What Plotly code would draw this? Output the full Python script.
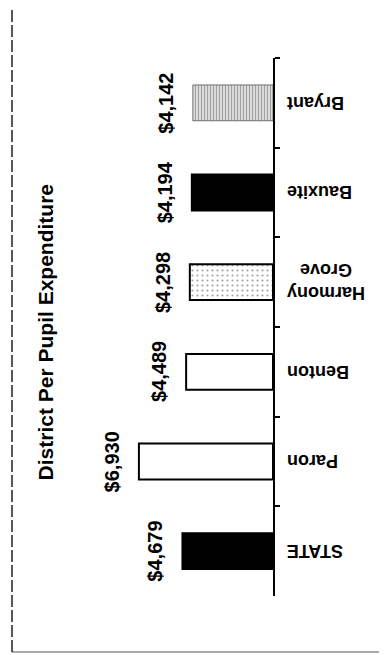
import plotly.graph_objects as go

categories = ["Bryant", "Bauxite", "Harmony Grove", "Benton", "Paron", "STATE"]
category_labels = ["Bryant", "Bauxite", "Harmony<br>Grove", "Benton", "Paron", "STATE"]
values = [4142, 4194, 4298, 4489, 6930, 4679]
value_labels = ["$4,142", "$4,194", "$4,298", "$4,489", "$6,930", "$4,679"]
title_text = "District Per Pupil Expenditure"

fill_colors = ["white", "black", "white", "white", "white", "black"]
pattern_shapes = ["|", "", ".", "", "", ""]
pattern_sizes = [3, 8, 5, 8, 8, 8]
pattern_solidity = [0.6, 0.3, 0.15, 0.3, 0.3, 0.3]
pattern_bg = ["#b0b0b0", "white", "white", "white", "white", "white"]
outline_widths = [0.5, 2, 2, 2, 2, 2]

FONT = "Liberation Sans, Arial, Helvetica, sans-serif"

fig = go.Figure()
fig.add_trace(go.Bar(
    x=values,
    y=categories,
    orientation="h",
    width=0.4,
    marker=dict(
        color=fill_colors,
        line=dict(color="black", width=outline_widths),
        pattern=dict(shape=pattern_shapes, fgcolor="black", bgcolor=pattern_bg,
                     size=pattern_sizes, solidity=pattern_solidity),
    ),
    hoverinfo="skip",
))

annotations = []
for c, v, t in zip(categories, values, value_labels):
    annotations.append(dict(
        x=v, y=c, xref="x", yref="y", text=t, showarrow=False,
        textangle=-90, xanchor="right", yanchor="middle", xshift=-14,
        font=dict(family=FONT, size=20, color="black", weight="bold"),
    ))
for c, t in zip(categories, category_labels):
    annotations.append(dict(
        x=1, y=c, xref="paper", yref="y", text=t, showarrow=False,
        textangle=180, xanchor="left", yanchor="middle", xshift=12,
        align="center",
        font=dict(family=FONT, size=18, color="black", weight="bold"),
    ))
annotations.append(dict(
    x=(45 - 20) / 253, y=0.49, xref="paper", yref="paper", text=title_text,
    showarrow=False, textangle=-90, xanchor="center", yanchor="middle",
    font=dict(family=FONT, size=21, color="black", weight="bold"),
))

# page frame
L, R = (12 - 20) / 253, (390 - 20) / 253
T, B = (596 - 6) / 538, (596 - 652) / 538
shapes = [
    dict(type="line", xref="paper", yref="paper", x0=L, x1=R, y0=T, y1=T,
         line=dict(color="#222", width=1.5)),
    dict(type="line", xref="paper", yref="paper", x0=L, x1=R, y0=B, y1=B,
         line=dict(color="#555", width=1.2)),
    dict(type="line", xref="paper", yref="paper", x0=L, x1=L, y0=B, y1=T,
         line=dict(color="#222", width=1.5, dash="12px,3px")),
]

fig.update_layout(
    width=387, height=655,
    margin=dict(l=12, r=122, t=50, b=67),
    paper_bgcolor="white", plot_bgcolor="white",
    showlegend=False,
    xaxis=dict(visible=False, range=[13075, 0], fixedrange=True),
    yaxis=dict(
        type="category", categoryarray=categories, categoryorder="array",
        range=[5.5, -0.5], side="right",
        showline=True, linecolor="black", linewidth=2,
        ticks="outside", ticklen=5, tickwidth=2, tickcolor="black",
        tickson="boundaries", showticklabels=False, showgrid=False,
        zeroline=False,
    ),
    annotations=annotations,
    shapes=shapes,
)

fig.write_html("out.html")
